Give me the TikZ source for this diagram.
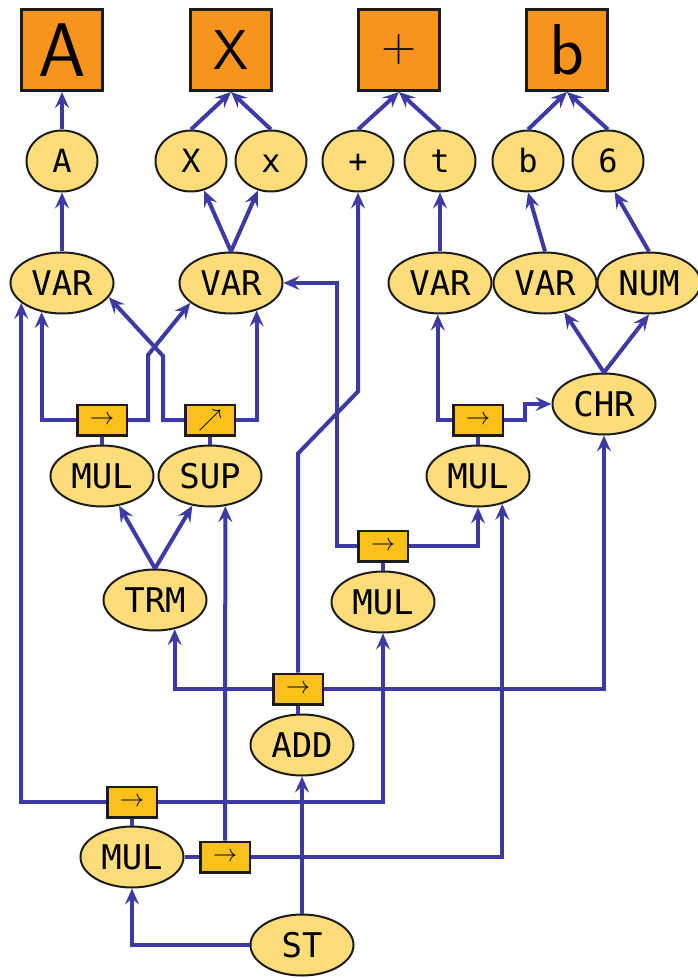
\documentclass[tikz,border=0pt]{standalone}
\usepackage{fontspec}
\setmonofont{DejaVu Sans Mono}
\usetikzlibrary{arrows.meta,shapes.geometric}

\definecolor{glyphfill}{RGB}{247,148,30}
\definecolor{tokfill}{RGB}{252,221,122}
\definecolor{dirfill}{RGB}{249,193,26}
\definecolor{wireblue}{RGB}{62,58,165}
\definecolor{inkline}{RGB}{28,28,28}

\tikzset{
  glyph/.style={draw=inkline, line width=1.5pt, fill=glyphfill, minimum size=40.5pt,
    inner sep=0pt, font=\sffamily},
  tok/.style={ellipse, draw=inkline, line width=1pt, fill=tokfill, minimum width=35.5pt,
    minimum height=30.5pt, inner sep=0pt, text height=11.7pt, text depth=0pt,
    font=\ttfamily\fontsize{16}{16}\selectfont},
  nterm/.style={tok, minimum width=51.5pt, text height=12.4pt,
    font=\ttfamily\fontsize{17}{17}\selectfont},
  dirbox/.style={draw=inkline, line width=1.25pt, fill=dirfill, minimum width=24.75pt,
    minimum height=15.25pt, inner sep=0pt, font=\fontsize{12}{12}\selectfont},
  wire/.style={draw=wireblue, line width=2pt, -{Stealth[length=8pt,width=7pt,inset=3pt]}},
  stub/.style={draw=wireblue, line width=1.7pt}
}

\begin{document}
\begin{tikzpicture}[x=0.5pt,y=-0.5pt]
  \useasboundingbox (0,0) rectangle (697,978);

  % drawn glyphs
  \node[glyph, font=\sffamily\fontsize{38}{38}\selectfont] (gA) at (62,50) {A};
  \node[glyph, font=\sffamily\fontsize{28}{28}\selectfont] (gX) at (231,50) {X};
  \node[glyph, font=\sffamily\fontsize{24}{24}\selectfont] (gP) at (399,50) {+};
  \node[glyph, font=\sffamily\fontsize{36}{36}\selectfont] (gB) at (567,50) {b};

  % characters
  \foreach \name/\x/\ch in {tA/62/A, tX/191/X, tx/271/x, tp/358/+, tt/440/t, tb/528/b, t6/608/6}
    \node[tok] (\name) at (\x,161) {\ch};

  % rules
  \node[nterm] (var1) at (62,283) {VAR};
  \node[nterm] (var2) at (231,283) {VAR};
  \node[nterm] (var3) at (440,283) {VAR};
  \node[nterm] (var4) at (545,283) {VAR};
  \node[nterm] (num) at (649,283) {NUM};
  \node[nterm] (chr) at (604,404) {CHR};
  \node[nterm] (mul1) at (102,476) {MUL};
  \node[nterm] (sup) at (210,476) {SUP};
  \node[nterm] (mul2) at (478,476) {MUL};
  \node[nterm] (trm) at (155,600) {TRM};
  \node[nterm] (mul3) at (383,602) {MUL};
  \node[nterm] (add) at (302,745) {ADD};
  \node[nterm] (mul4) at (132,857) {MUL};
  \node[nterm] (st) at (302,945) {ST};

  % direction tags
  \node[dirbox] (o1) at (102,420) {$\rightarrow$};
  \node[dirbox] (o2) at (210,420) {$\nearrow$};
  \node[dirbox] (o3) at (478,420) {$\rightarrow$};
  \node[dirbox] (o4) at (383,546) {$\rightarrow$};
  \node[dirbox] (o5) at (298,689) {$\rightarrow$};
  \node[dirbox] (o6) at (132,802) {$\rightarrow$};
  \node[dirbox] (o7) at (225,857) {$\rightarrow$};

  % characters to glyphs
  \draw[wire] (tA) -- (gA);
  \draw[wire] (tX.north) -- (gX.south);
  \draw[wire] (tx.north) -- (gX.south);
  \draw[wire] (tp.north) -- (gP.south);
  \draw[wire] (tt.north) -- (gP.south);
  \draw[wire] (tb.north) -- (gB.south);
  \draw[wire] (t6.north) -- (gB.south);

  % rules to characters
  \draw[wire] (var1) -- (tA);
  \draw[wire] (var2.north) -- (tX);
  \draw[wire] (var2.north) -- (tx);
  \draw[wire] (var3) -- (tt);
  \draw[wire] (var4.north) -- (tb.south);
  \draw[wire] (num.north) -- (t6.282);
  \draw[wire] (chr.north) -- (var4);
  \draw[wire] (chr.north) -- (num.south);
  \draw[wire] (trm.north) -- (mul1);
  \draw[wire] (trm.north) -- (sup);

  % tags to their rules
  \draw[stub] (o1) -- (mul1);
  \draw[stub] (o2) -- (sup);
  \draw[stub] (o3) -- (mul2);
  \draw[stub] (o4) -- (mul3);
  \draw[stub] (o5.south) -- (o5.south |- add.north);
  \draw[stub] (o6) -- (mul4);
  \draw[stub] (mul4) -- (o7);

  % operands
  \draw[wire] (o1.west) -| (var1.235);
  \draw[wire] (o1.east) -- ++(20,0) -- ++(0,-65) -- (var2.206);
  \draw[wire] (o2.west) -- ++(-21,0) -- ++(0,-64) -- (var1.343);
  \draw[wire] (o2.east) -| (var2.313);
  \draw[wire] (o3.west) -| (var3.266);
  \draw[wire] (o3.east) -- ++(21,0) |- (chr.west);
  \draw[wire] (o4.west) -- ++(-20,0) |- (var2.east);
  \draw[wire] (o4.east) -| (mul2);
  \draw[wire] (o5.north) -- ++(0,-219) -- ++(60,-62) -- (tp.south);
  \draw[wire] (o5.west) -| (trm.304);
  \draw[wire] (o5.east) -| (chr);
  \draw[wire] (o6.west) -| (var1.206);
  \draw[wire] (o6.east) -| (mul3);
  \draw[wire] (o7.north) -- (sup.297);
  \draw[wire] (o7.east) -| (mul2.311);
  \draw[wire] (st) -- (add);
  \draw[wire] (st.west) -| (mul4);
\end{tikzpicture}
\end{document}
